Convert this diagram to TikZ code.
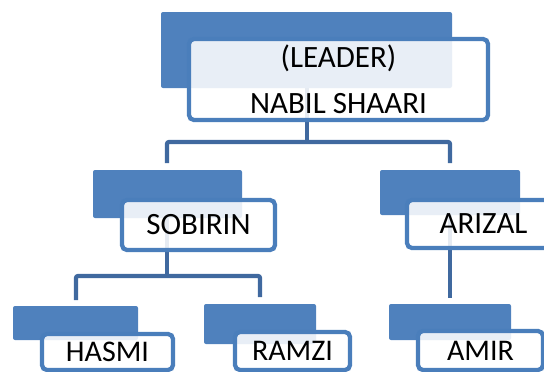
\documentclass[tikz,border=0pt]{standalone}
\usepackage{fontspec}
\setmainfont{Carlito}
\usetikzlibrary{backgrounds}
\definecolor{accent}{HTML}{4F81BD}
\definecolor{edge}{HTML}{4A7EBB}
\definecolor{linkc}{HTML}{40699F}
\tikzset{
 backbox/.style={fill=accent, rounded corners=2pt, anchor=north west, inner sep=0pt, outer sep=0pt},
 frontbox/.style={fill=white, fill opacity=0.87, text opacity=1, draw=edge, draw opacity=1, line width=4.3pt, rounded corners=5pt, anchor=north west, inner sep=0pt, outer sep=0pt, align=center, font=\fontsize{31}{46}\selectfont},
 smallfront/.style={frontbox, font=\fontsize{30}{36}\selectfont},
 link/.style={draw=linkc, line width=4.2pt, rounded corners=2pt}
}
\begin{document}
\begin{tikzpicture}[x=1pt,y=-1pt]
\clip (0,0) rectangle (544,372);
% coordinates for connector ends
\coordinate (t1) at (307,142);
\coordinate (l1) at (167,163);
\coordinate (h1) at (450,142);
\coordinate (r1) at (450,163);
\coordinate (t2) at (167,276);
\coordinate (l2) at (76,300);
\coordinate (h2) at (260,276);
\coordinate (r2) at (260,297);
\coordinate (t3) at (450,298);
% back boxes
\node[backbox, minimum width=291pt, minimum height=76pt] (b0) at (161,12) {};
\node[backbox, minimum width=149pt, minimum height=48pt] (b1) at (93,170) {};
\node[backbox, minimum width=140pt, minimum height=45pt] (b2) at (380,170) {};
\node[backbox, minimum width=125pt, minimum height=34pt] (b3) at (13,306) {};
\node[backbox, minimum width=112pt, minimum height=40pt] (b4) at (204,304) {};
\node[backbox, minimum width=122pt, minimum height=36pt] (b5) at (389,304) {};
% connectors (behind the boxes)
\begin{scope}[on background layer]
\draw[link] (b0.south -| t1) -- (t1);
\draw[link] (l1) |- (h1) -- (r1);
\draw[link] (b1.south -| t2) -- (t2);
\draw[link] (l2) |- (h2) -- (r2);
\draw[link] (b2.south -| t3) -- (t3);
\end{scope}
% front boxes
\node[frontbox, minimum width=299pt, minimum height=81pt] (f0) at (189,39) {(LEADER)\\NABIL SHAARI};
\node[frontbox, minimum width=153pt, minimum height=50pt] (f1) at (122,200) {SOBIRIN};
\node[frontbox, minimum width=153pt, minimum height=48pt] (f2) at (407,200) {ARIZAL};
\node[smallfront, minimum width=131pt, minimum height=36pt] (f3) at (42,334) {HASMI};
\node[smallfront, minimum width=115pt, minimum height=38pt] (f4) at (235,332) {RAMZI};
\node[smallfront, minimum width=125pt, minimum height=39pt] (f5) at (418,331) {AMIR};
\end{tikzpicture}
\end{document}
